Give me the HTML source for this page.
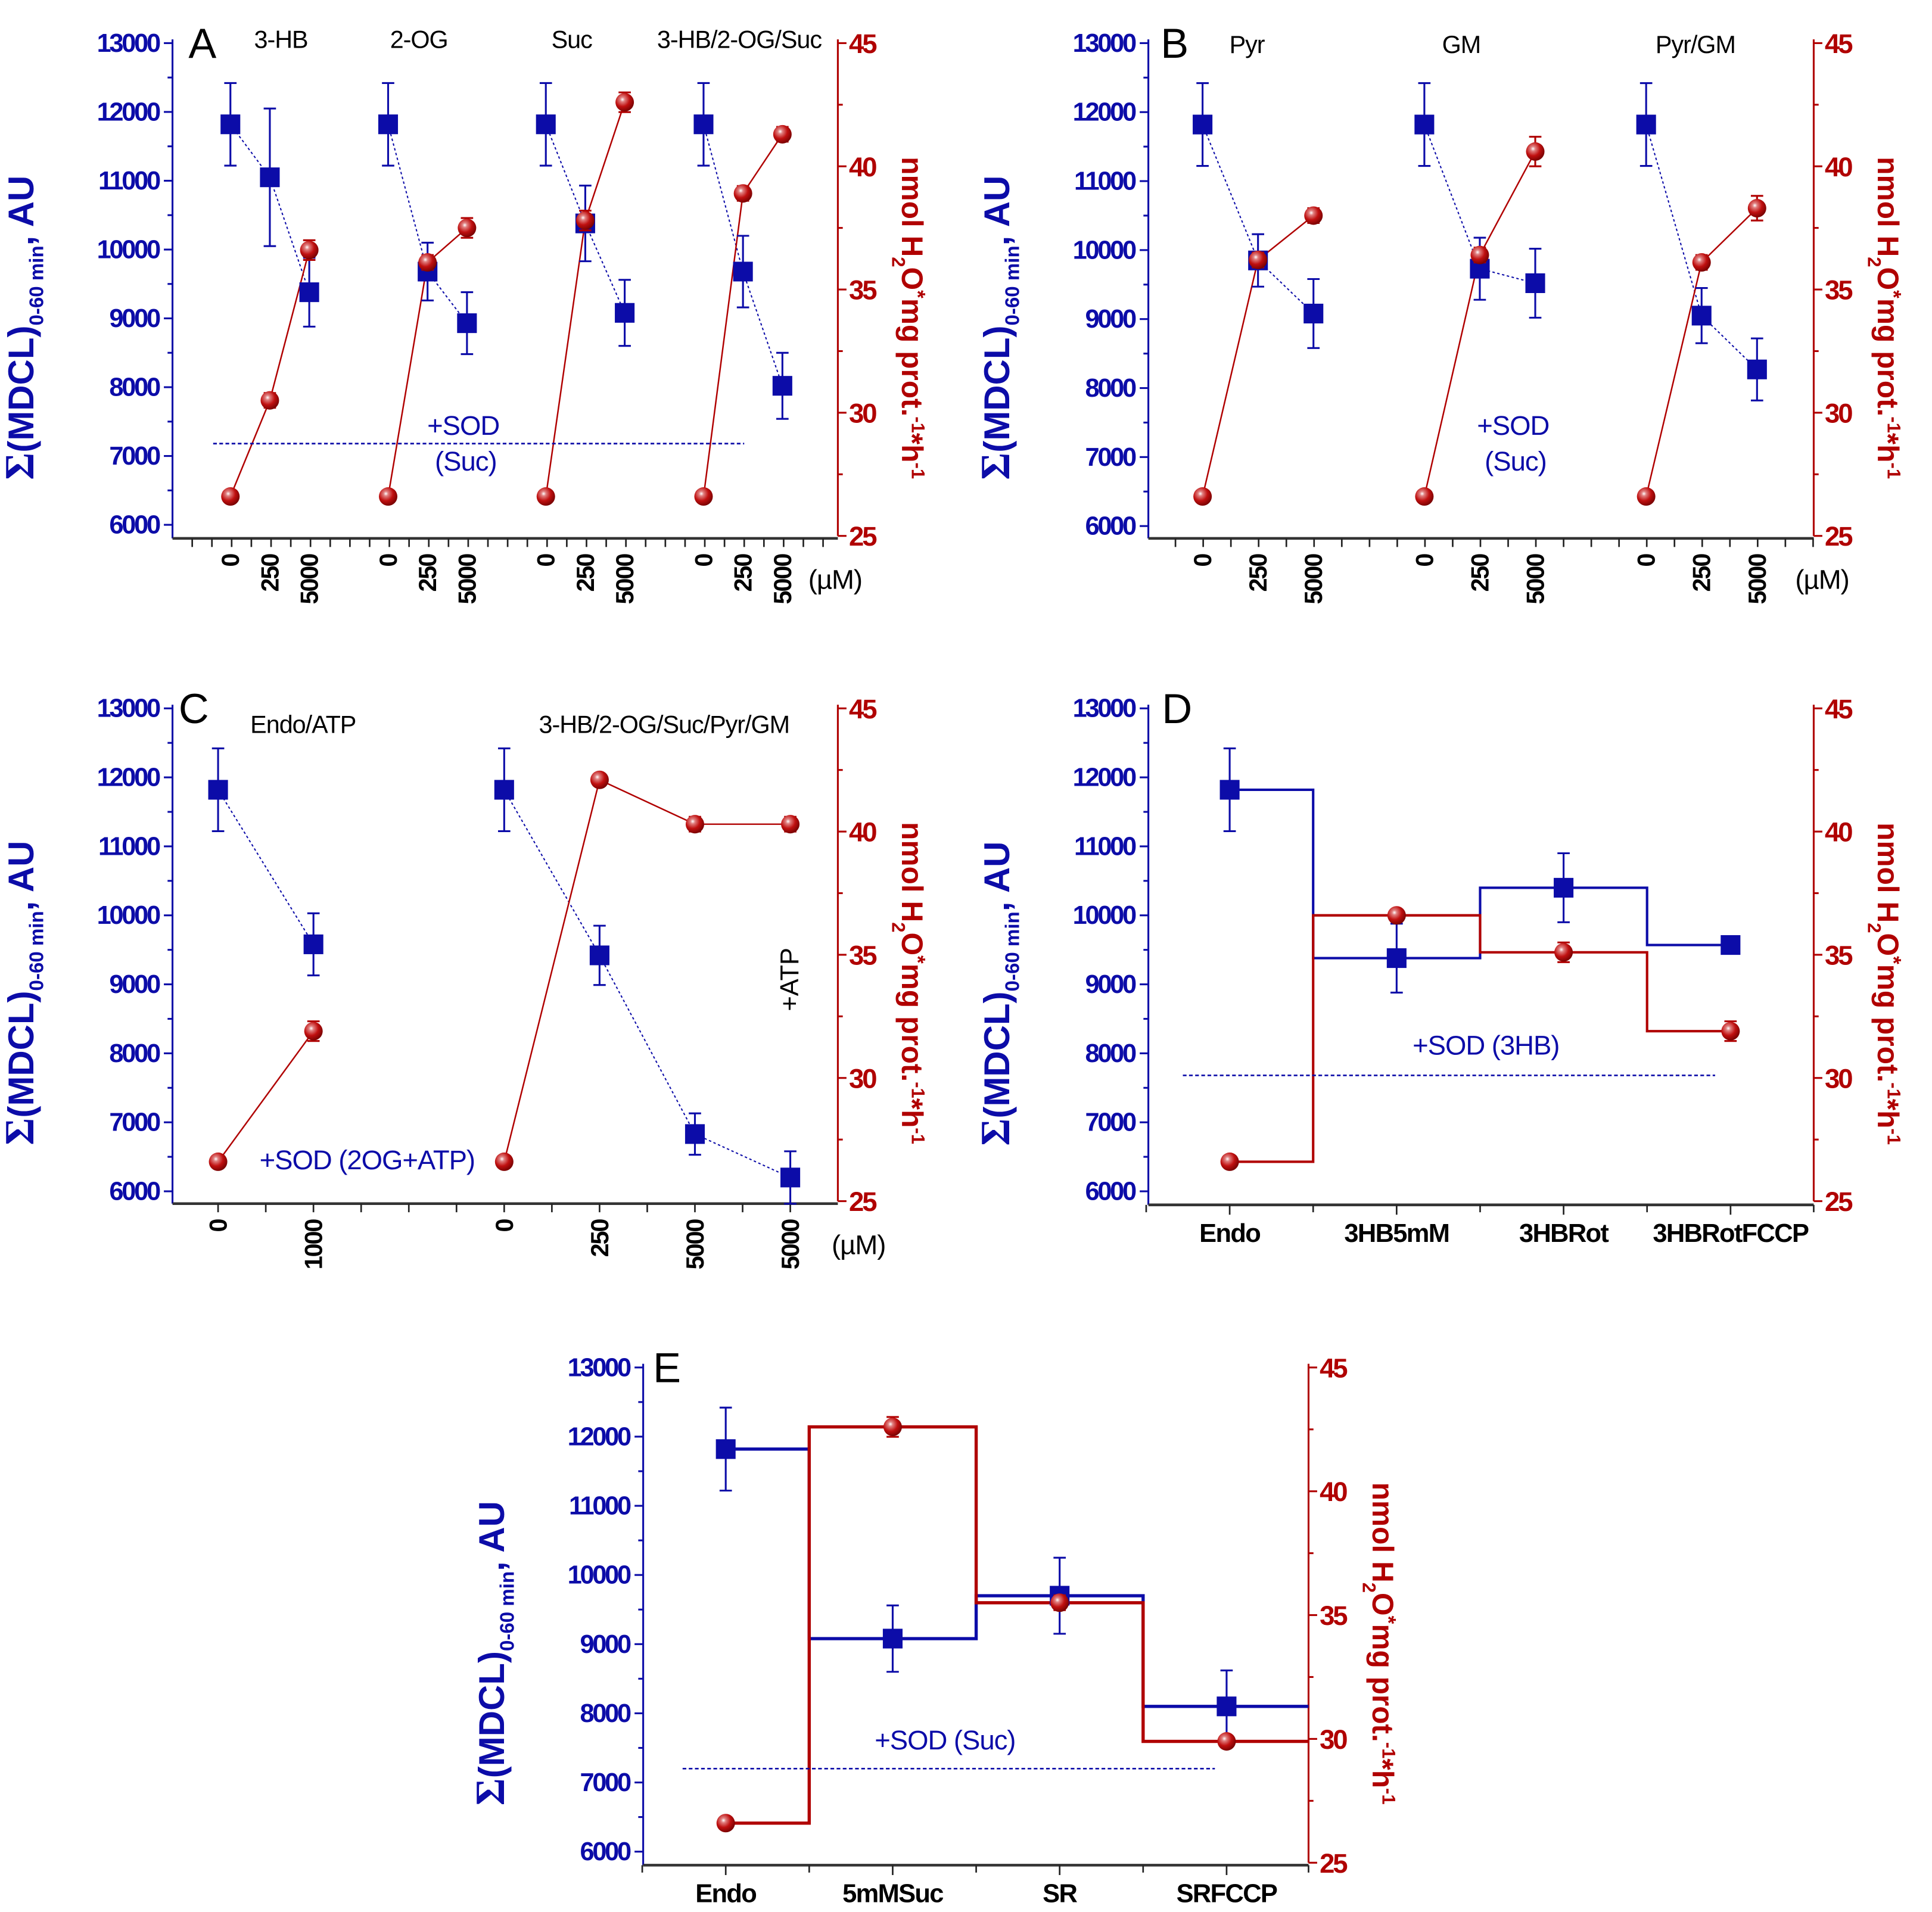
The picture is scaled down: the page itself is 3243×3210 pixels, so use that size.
<!DOCTYPE html>
<html><head><meta charset="utf-8">
<style>
html,body{margin:0;padding:0;background:#fff;}
svg{display:block;}
text{font-family:"Liberation Sans",sans-serif;}
</style></head>
<body>
<svg id="fig" xmlns="http://www.w3.org/2000/svg" width="3243" height="3210" viewBox="0 0 1568 1552" preserveAspectRatio="none">
<defs>
<radialGradient id="ball" cx="0.38" cy="0.35" r="0.7">
<stop offset="0" stop-color="#ffffff"/><stop offset="0.18" stop-color="#e08080"/><stop offset="0.55" stop-color="#c01010"/><stop offset="1" stop-color="#700000"/>
</radialGradient>
</defs>
</svg>
<script>
// ---------- DATA ----------
// Panel A
const aGroups=[0,0,0,1,1,1,2,2,2,3,3,3];
const aTicks=['0','250','5000','0','250','5000','0','250','5000','0','250','5000'];
const aTitles=['3-HB','2-OG','Suc','3-HB/2-OG/Suc'];
const aBlue=[11820,11050,9380,11820,9680,8930,11820,10380,9080,11820,9680,8020];
const aBlueErr=[600,1000,500,600,420,450,600,550,480,600,520,480];
const aRed=[26.6,30.5,36.6,26.6,36.1,37.5,26.6,37.8,42.6,26.6,38.9,41.3];
const aRedErr=[0.2,0.3,0.4,0.2,0.3,0.4,0.2,0.4,0.4,0.2,0.3,0.3];
const aSod=7180;
// Panel B
const bGroups=[0,0,0,1,1,1,2,2,2];
const bTicks=['0','250','5000','0','250','5000','0','250','5000'];
const bTitles=['Pyr','GM','Pyr/GM'];
const bBlue=[11820,9850,9080,11820,9730,9520,11820,9050,8270];
const bBlueErr=[600,380,500,600,450,500,600,400,450];
const bRed=[26.6,36.2,38.0,26.6,36.4,40.6,26.6,36.1,38.3];
const bRedErr=[0.2,0.3,0.3,0.2,0.3,0.6,0.2,0.3,0.5];
// Panel C
const cSlots=[0,2,6,8,10,12];
const cGroups=[0,0,1,1,1,1];
const cTicks=['0','1000','0','250','5000','5000'];
const cBlue=[11820,9580,11820,9420,6830,6200];
const cBlueErr=[600,450,600,430,300,380];
const cRed=[26.6,31.9,26.6,42.1,40.3,40.3];
const cRedErr=[0.2,0.4,0.2,0.2,0.3,0.3];
// Panel D
const dCats=['Endo','3HB5mM','3HBRot','3HBRotFCCP'];
const dBlue=[11820,9380,10400,9570];
const dBlueErr=[600,500,500,0];
const dRed=[26.6,36.6,35.1,31.9];
const dRedErr=[0.2,0.2,0.4,0.4];
const dSod=7680;
// Panel E
const eCats=['Endo','5mMSuc','SR','SRFCCP'];
const eBlue=[11820,9080,9700,8100];
const eBlueErr=[600,480,550,520];
const eRed=[26.6,42.6,35.5,29.9];
const eRedErr=[0.2,0.4,0.3,0.2];
const eSod=7200;

// ---------- DRAWING ----------
const NS='http://www.w3.org/2000/svg';
const svg=document.getElementById('fig');
const BLUE='#0c0ca8', RED='#b00000';
function mk(tag,attrs,parent,txt){const e=document.createElementNS(NS,tag);for(const k in attrs)e.setAttribute(k,attrs[k]);if(txt!==undefined)e.textContent=txt;(parent||svg).appendChild(e);return e;}

function makeAxes(g,P,name){
  const yL=v=>P.top+(13000-v)*(P.y6-P.top)/7000;
  const yR=v=>P.top+(45-v)*(P.y25-P.top)/20;
  const la=mk('line',{x1:P.x0,y1:P.top-3,x2:P.x0,y2:P.bot,stroke:BLUE,'stroke-width':1.5},g);
  
  
  for(let v=6000;v<=13000;v+=500){
    const y=yL(v),maj=v%1000===0;
    mk('line',{x1:P.x0-(maj?7:4),y1:y,x2:P.x0,y2:y,stroke:BLUE,'stroke-width':1.5},g);
    if(maj){const t=mk('text',{x:P.x0-11,y:y+7,'text-anchor':'end','font-size':21,'font-weight':'bold',fill:BLUE,'letter-spacing':'-1.6'},g,String(v));
      
      }
  }
  const ra=mk('line',{x1:P.x1,y1:P.top-3,x2:P.x1,y2:P.y25,stroke:RED,'stroke-width':1.5},g);
  
  
  for(let v=25;v<=45;v+=2.5){
    const y=yR(v),maj=v%5===0;
    mk('line',{x1:P.x1,y1:y,x2:P.x1+(maj?7:4),y2:y,stroke:RED,'stroke-width':1.5},g);
    if(maj){const t=mk('text',{x:P.x1+9,y:y+8,'font-size':22,'font-weight':'bold',fill:RED,'letter-spacing':'-1.5'},g,String(v));
      
      }
  }
  const ba=mk('line',{x1:P.x0,y1:P.bot,x2:P.x1,y2:P.bot,stroke:'#333',"stroke-width":2.2},g);
  
  
  const cy=(P.top+P.bot)/2, lx=P.x0-113;
  const lt=mk('text',{transform:`translate(${lx},${cy+30}) rotate(-90)`,'text-anchor':'middle','font-size':29,'font-weight':'bold',fill:BLUE},g);
  
  
  mk('tspan',{'font-family':'Liberation Serif','font-size':34},lt,'Σ');
  mk('tspan',{},lt,'(MDCL)');
  mk('tspan',{dy:8,'font-size':16},lt,'0-60 min');
  mk('tspan',{dy:-8},lt,', AU');
  const rx=P.x1+52;
  const rt=mk('text',{transform:`translate(${rx},${cy+22}) rotate(90)`,'text-anchor':'middle','font-size':24,'font-weight':'bold',fill:RED},g);
  
  
  mk('tspan',{},rt,'nmol H');
  mk('tspan',{dy:8,'font-size':15},rt,'2');
  mk('tspan',{dy:-8},rt,'O');
  mk('tspan',{dy:-7,'font-size':17},rt,'*');
  mk('tspan',{dy:7},rt,'mg prot.');
  mk('tspan',{dy:-8,'font-size':15},rt,'-1');
  mk('tspan',{dy:8},rt,'*h');
  mk('tspan',{dy:-8,'font-size':15},rt,'-1');
  const pl=mk('text',{x:P.letterX,y:P.top+12,'font-size':34,fill:'#000'},g,name);
  
  
  return {yL,yR};
}

function drawBlueMark(g,x,y,yUp,yLo){
  if(yUp!==null){
    mk('line',{x1:x,y1:yUp,x2:x,y2:yLo,stroke:BLUE,'stroke-width':1.5},g);
    mk('line',{x1:x-5,y1:yUp,x2:x+5,y2:yUp,stroke:BLUE,'stroke-width':1.5},g);
    mk('line',{x1:x-5,y1:yLo,x2:x+5,y2:yLo,stroke:BLUE,'stroke-width':1.5},g);
  }
  const r=mk('rect',{x:x-8,y:y-8,width:16,height:16,fill:BLUE},g);
  
  
}
function drawRedMark(g,x,y,yUp,yLo){
  mk('line',{x1:x,y1:yUp,x2:x,y2:yLo,stroke:RED,'stroke-width':1.5},g);
  mk('line',{x1:x-5,y1:yUp,x2:x+5,y2:yUp,stroke:RED,'stroke-width':1.5},g);
  mk('line',{x1:x-5,y1:yLo,x2:x+5,y2:yLo,stroke:RED,'stroke-width':1.5},g);
  const c=mk('circle',{cx:x,cy:y,r:7.5,fill:'url(#ball)'},g);
  
  
}

function linePanel(name,P,xs,groups,ticks,blue,blueErr,red,redErr,sod,sodOpts){
  const g=mk('g',{});
  
  
  const {yL,yR}=makeAxes(g,P,name);
  for(let x=P.tickStart;x<=P.x1;x+=P.tickStep){
    mk('line',{x1:x,y1:P.bot,x2:x,y2:P.bot+7,stroke:'#222','stroke-width':1.3},g);
  }
  xs.forEach((x,i)=>{
    const t=mk('text',{transform:`translate(${x+7},${P.bot+13}) rotate(-90)`,'text-anchor':'end','font-size':20,'font-weight':'bold',fill:'#000','letter-spacing':'-1'},g,ticks[i]);
    
    
  });
  const um=mk('text',{x:P.umX,y:P.bot+41,'font-size':22,fill:'#000','letter-spacing':'-0.5'},g,'(µM)');
  
  
  const ng=Math.max(...groups)+1;
  for(let k=0;k<ng;k++){
    const idx=groups.map((gg,i)=>gg===k?i:-1).filter(i=>i>=0);
    const bl=mk('polyline',{points:idx.map(i=>xs[i]+','+yL(blue[i])).join(' '),fill:'none',stroke:BLUE,'stroke-width':1,'stroke-dasharray':'2,2'},g);
    
    
    const rl=mk('polyline',{points:idx.map(i=>xs[i]+','+yR(red[i])).join(' '),fill:'none',stroke:RED,'stroke-width':1.2},g);
    
    
  }
  xs.forEach((x,i)=>drawBlueMark(g,x,yL(blue[i]),yL(blue[i]+blueErr[i]),yL(blue[i]-blueErr[i])));
  xs.forEach((x,i)=>drawRedMark(g,x,yR(red[i]),yR(red[i]+redErr[i]),yR(red[i]-redErr[i])));
  if(sod!==null){
    const sl=mk('line',{x1:sodOpts.x1,y1:yL(sod),x2:sodOpts.x2,y2:yL(sod),stroke:BLUE,'stroke-width':1.3,'stroke-dasharray':'3,2'},g);
    
    
  }
  return {g,yL,yR};
}

function stepPanel(name,P,cats,blue,blueErr,red,redErr,sod,sodOpts){
  const g=mk('g',{});
  
  
  const {yL,yR}=makeAxes(g,P,name);
  const xc=i=>P.c0+i*P.step;
  for(let i=0;i<cats.length;i++){
    mk('line',{x1:xc(i),y1:P.bot,x2:xc(i),y2:P.bot+8,stroke:'#222','stroke-width':1.3},g);
    mk('line',{x1:xc(i)-P.step/2,y1:P.bot,x2:xc(i)-P.step/2,y2:P.bot+6,stroke:'#222','stroke-width':1.3},g);
    const t=mk('text',{x:xc(i),y:P.bot+30,'text-anchor':'middle','font-size':21,'font-weight':'bold',fill:'#000','letter-spacing':'-0.8'},g,cats[i]);
    
    
  }
  mk('line',{x1:P.x1,y1:P.bot,x2:P.x1,y2:P.bot+6,stroke:'#222','stroke-width':1.3},g);
  function steps(vals,scale){
    let pts=[];
    vals.forEach((v,i)=>{
      const a=i===0?xc(0):xc(i)-P.step/2;
      const b=i===vals.length-1?P.lastEnd:xc(i)+P.step/2;
      pts.push(a+','+scale(v));pts.push(b+','+scale(v));
    });
    return pts.join(' ');
  }
  const bs=mk('polyline',{points:steps(blue,yL),fill:'none',stroke:BLUE,'stroke-width':P.sw},g);
  
  
  const rs=mk('polyline',{points:steps(red,yR),fill:'none',stroke:RED,'stroke-width':P.sw},g);
  
  
  blue.forEach((v,i)=>drawBlueMark(g,xc(i),yL(v),blueErr[i]?yL(v+blueErr[i]):null,yL(v-blueErr[i])));
  red.forEach((v,i)=>drawRedMark(g,xc(i),yR(v),yR(v+redErr[i]),yR(v-redErr[i])));
  const sl=mk('line',{x1:sodOpts.x1,y1:yL(sod),x2:sodOpts.x2,y2:yL(sod),stroke:BLUE,'stroke-width':1.3,'stroke-dasharray':'3,2'},g);
  
  
  return {g,yL,yR};
}

function label(g,x,y,txt,opts,nm){
  const t=mk('text',Object.assign({x:x,y:y,'text-anchor':'middle','font-size':20,'letter-spacing':'-0.5'},opts),g,txt);
  
  
  return t;
}

// Panel A
(function(){
  const P={x0:140,x1:680,top:35,y6:426,y25:435,bot:437,letterX:153,tickStart:156,tickStep:16,umX:656};
  const xs=aGroups.map((gg,i)=>{const w=aGroups.slice(0,i).filter(q=>q===gg).length;return 187+gg*128+w*32;});
  const r=linePanel('A',P,xs,aGroups,aTicks,aBlue,aBlueErr,aRed,aRedErr,aSod,{x1:173,x2:604});
  const tx=[228,340,464,600];
  aTitles.forEach((t,i)=>label(r.g,tx[i],39,t,{fill:'#000'},'group-title'));
  label(r.g,376,353,'+SOD',{fill:BLUE,'font-size':22},'sod-annotation');
  label(r.g,378,382,'(Suc)',{fill:BLUE,'font-size':22},'sod-annotation');
})();
// Panel B
(function(){
  const P={x0:932,x1:1472,top:35,y6:427,y25:435,bot:437,letterX:942,tickStart:954,tickStep:22.5,umX:1457};
  const xs=bGroups.map((gg,i)=>{const w=bGroups.slice(0,i).filter(q=>q===gg).length;return 976+gg*180+w*45;});
  const r=linePanel('B',P,xs,bGroups,bTicks,bBlue,bBlueErr,bRed,bRedErr,null,null);
  const tx=[1012,1186,1376];
  bTitles.forEach((t,i)=>label(r.g,tx[i],43,t,{fill:'#000'},'group-title'));
  label(r.g,1228,353,'+SOD',{fill:BLUE,'font-size':22},'sod-annotation');
  label(r.g,1230,382,'(Suc)',{fill:BLUE,'font-size':22},'sod-annotation');
})();
// Panel C
(function(){
  const P={x0:140,x1:680,top:575,y6:967,y25:975,bot:977,letterX:145,tickStart:177,tickStep:38.7,umX:675};
  const xs=cSlots.map(s=>177+s*38.7);
  const r=linePanel('C',P,xs,cGroups,cTicks,cBlue,cBlueErr,cRed,cRedErr,null,null);
  label(r.g,246,595,'Endo/ATP',{fill:'#000'},'group-title');
  label(r.g,539,595,'3-HB/2-OG/Suc/Pyr/GM',{fill:'#000'},'group-title');
  label(r.g,298,949,'+SOD (2OG+ATP)',{fill:BLUE,'font-size':22},'sod-annotation');
  const at=mk('text',{transform:'translate(648,795) rotate(-90)','text-anchor':'middle','font-size':21,fill:'#000'},r.g,'+ATP');
  
  
})();
// Panel D
(function(){
  const P={x0:932,x1:1472,top:575,y6:967,y25:975,bot:978,letterX:943,c0:998,step:135.5,lastEnd:1404,sw:2};
  const r=stepPanel('D',P,dCats,dBlue,dBlueErr,dRed,dRedErr,dSod,{x1:960,x2:1392});
  label(r.g,1206,856,'+SOD (3HB)',{fill:BLUE,'font-size':22},'sod-annotation');
})();
// Panel E
(function(){
  const P={x0:522,x1:1062,top:1110,y6:1503,y25:1512,bot:1514,letterX:530,c0:589,step:135.5,lastEnd:1062,sw:2.6};
  const r=stepPanel('E',P,eCats,eBlue,eBlueErr,eRed,eRedErr,eSod,{x1:554,x2:986});
  label(r.g,767,1420,'+SOD (Suc)',{fill:BLUE,'font-size':22},'sod-annotation');
})();
</script>
</body></html>
